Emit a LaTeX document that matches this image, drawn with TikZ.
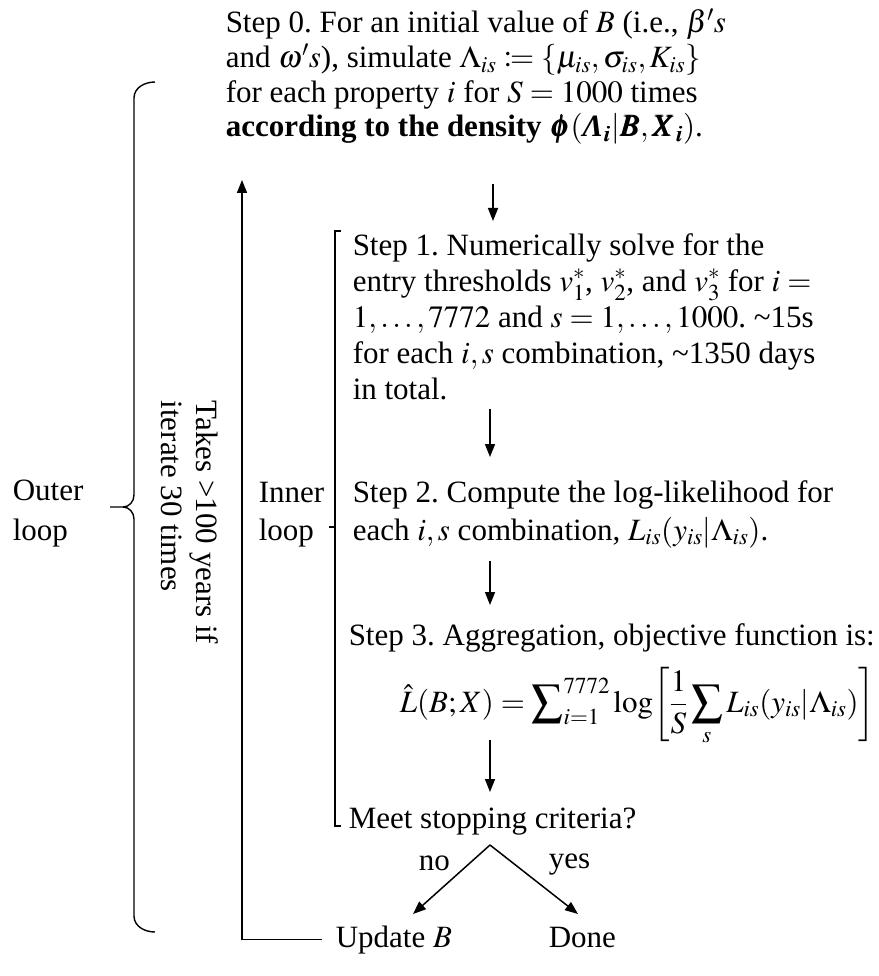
\documentclass[tikz,border=0pt]{standalone}
\usepackage{amsmath}
\usepackage{mathtools}
\usepackage{mathptmx}
\usepackage{bm}
\usepackage{fontspec}
\setmainfont{Liberation Serif}
\usetikzlibrary{arrows.meta}
\begin{document}
\frenchspacing
\begin{tikzpicture}[x=1pt,y=-1pt,
  font=\fontsize{31}{35.6}\selectfont\frenchspacing,
  line width=1.5pt,
  txt/.style={inner sep=0pt, align=left, anchor=base west},
  arr/.style={-{Triangle[length=13pt,width=10pt]}},
  brk/.style={line width=1.4pt}]
\useasboundingbox (0,0) rectangle (878,976);
% texts (base = baseline of the last line)
\node[txt,font=\fontsize{31}{34.7}\selectfont\frenchspacing] (s0) at (225,137) {Step 0. For an initial value of $B$ (i.e., $\beta' s$\\
and $\omega' s$), simulate $\Lambda_{is}\coloneqq\{\mu_{is},\sigma_{is},K_{is}\}$\\
for each property $i$ for $S=1000$ times\\
\textbf{according to the density} $\bm{\phi}($\textbf{\textit{Λ}}$_{\bm{i}}|\bm{B},\bm{X}_{\bm{i}})$.};
\node[txt,font=\fontsize{31}{36}\selectfont\frenchspacing] (s1) at (352,399) {Step 1. Numerically solve for the\\
entry thresholds $v_1^*$, $v_2^*$, and $v_3^*$ for $i=$\\
$1,\dots,7772$ and $s=1,\dots,1000$. \textasciitilde 15s\\
for each $i,s$ combination, \textasciitilde 1350 days\\
in total.};
\node[txt,font=\fontsize{31}{38}\selectfont\frenchspacing] (s2) at (352,540) {Step 2. Compute the log-likelihood for\\
each $i,s$ combination, $L_{is}(y_{is}|\Lambda_{is})$.};
\node[txt] (s3) at (348,645) {Step 3. Aggregation, objective function is:};
\node[txt] (f3) at (399,712) {$\displaystyle \hat{L}(B;X) = \sum\nolimits_{i=1}^{7772}\log\biggl[\frac{1}{S}\sum_{s} L_{is}(y_{is}|\Lambda_{is})\biggr]$};
\node[txt] (ms) at (348,828) {Meet stopping criteria?};
\node[txt] (ub) at (335,947) {Update $B$};
\node[txt] (dn) at (548,947) {Done};
\node[txt] (no) at (418,870) {no};
\node[txt] (ys) at (548,868) {yes};
\node[txt,font=\fontsize{31}{40}\selectfont] (ol) at (12,540) {Outer\\loop};
\node[txt,font=\fontsize{31}{38}\selectfont] (il) at (258,540) {Inner\\loop};
\node[txt,rotate=-90] (tk) at (161,400) {Takes >100 years if\\iterate 30 times};
% coordinates
\coordinate (a1s) at (493,184); \coordinate (a1e) at (493,221);
\coordinate (a2s) at (490,409); \coordinate (a2e) at (490,457);
\coordinate (a3s) at (490,561); \coordinate (a3e) at (490,605);
\coordinate (a4s) at (490,740); \coordinate (a4e) at (490,792);
\coordinate (dt) at (490,845);
\coordinate (dl) at (413,914);
\coordinate (dr) at (578,914);
\coordinate (lp) at (242,180);
% arrows
\draw[arr] (a1s) -- (a1e);
\draw[arr] (a2s) -- (a2e);
\draw[arr] (a3s) -- (a3e);
\draw[arr] (a4s) -- (a4e);
\draw[arr] (dt) -- (dl);
\draw[arr] (dt) -- (dr);
\draw[arr] ([xshift=-13pt]ub.west) -| (lp);
% outer brace
\draw[brk] (155,82) to[out=180,in=90] (134,98) -- (134,495) to[out=-90,in=0] (123,507) -- (110,507);
\draw[brk] (123,507) to[out=0,in=90] (134,519) -- (134,916) to[out=-90,in=180] (155,932);
% inner bracket
\draw[brk] (341,231) -- (335,231) -- (335,826) -- (341,826);
\draw[brk] (335,527) -- (329,527);
\end{tikzpicture}
\end{document}
